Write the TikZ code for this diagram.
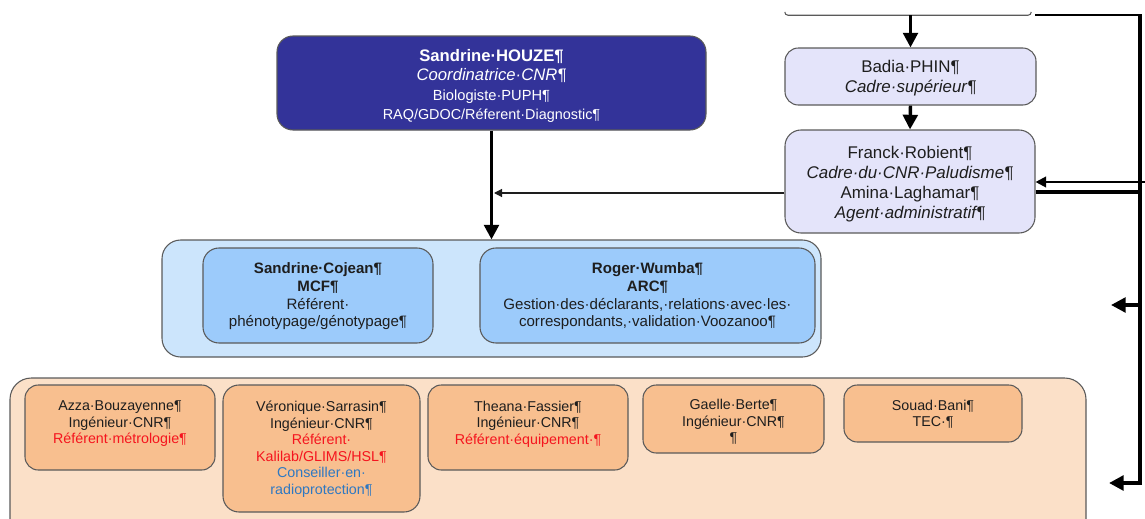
\documentclass[tikz,border=0pt]{standalone}
\usepackage{fontspec}
\setmainfont{Liberation Sans}
\usetikzlibrary{fit,arrows.meta}
\definecolor{boxline}{HTML}{5A5A5A}
\definecolor{houzefill}{HTML}{333399}
\definecolor{lavfill}{HTML}{E4E4FA}
\definecolor{lbluefill}{HTML}{CCE5FC}
\definecolor{mbluefill}{HTML}{9CCBFB}
\definecolor{peachfill}{HTML}{FBE0C8}
\definecolor{orangefill}{HTML}{F8BF8F}
\definecolor{txtdark}{HTML}{1E1E1E}
\definecolor{redref}{HTML}{F5141E}
\definecolor{bluecons}{HTML}{2E78C2}
\begin{document}
\begin{tikzpicture}[x=0.75pt,y=-0.75pt,
  bx/.style={draw=boxline, line width=0.8pt, rounded corners=10pt, inner sep=0pt},
  thickarr/.style={line width=2.6pt, -{Triangle[length=11pt,width=11pt]}},
  thinarr/.style={line width=0.9pt, draw=txtdark, -{Triangle[length=6pt,width=6pt]}},
  txt/.style={align=center, inner sep=0pt, text=txtdark},
  fbig/.style={font=\fontsize{12.7}{15}\selectfont},
  fmid/.style={font=\fontsize{11.3}{13.2}\selectfont},
  fsmall/.style={font=\fontsize{10.7}{12.4}\selectfont}]
\useasboundingbox (0,0) rectangle (1145,518);
\clip (0,0) rectangle (1145,518);

% boxes
\node[inner sep=0pt, fit={(785,6)(1031,15)}] (topbox) {};
\draw[draw=boxline, line width=0.8pt, rounded corners=2.5pt]
  ([yshift=2.5pt]topbox.south west) -- (topbox.south west) -- (topbox.south east) -- ([yshift=2.5pt]topbox.south east);
\node[bx, fill=houzefill, rounded corners=12pt, fit={(277,36)(706,130)}] (houze) {};
\node[bx, fill=lavfill, fit={(785,48)(1036,105)}] (badia) {};
\node[bx, fill=lavfill, rounded corners=12pt, fit={(785,130)(1035,233)}] (franck) {};
\node[bx, fill=lbluefill, rounded corners=14pt, fit={(162,240)(821,357)}] (bluecont) {};
\node[bx, fill=mbluefill, rounded corners=12pt, fit={(203,248)(433,343)}] (cojean) {};
\node[bx, fill=mbluefill, rounded corners=12pt, fit={(480,248)(815,343)}] (wumba) {};
\node[bx, fill=peachfill, rounded corners=16pt, fit={(10,378)(1086,545)}] (orcont) {};
\node[bx, fill=orangefill, fit={(25,385)(215,470)}] (azza) {};
\node[bx, fill=orangefill, rounded corners=12pt, fit={(223,385)(420,512)}] (veronique) {};
\node[bx, fill=orangefill, fit={(428,385)(628,470)}] (theana) {};
\node[bx, fill=orangefill, fit={(643,385)(824,453)}] (gaelle) {};
\node[bx, fill=orangefill, fit={(844,385)(1022,442)}] (souad) {};

% texts
\node[txt, text=white, font=\fontsize{12.5}{14.5}\selectfont] (houzet) at ([yshift=-2.3pt]houze.center)
  {{\bfseries Sandrine·HOUZE¶}\\
   {\itshape Coordinatrice·CNR¶}\\
   {\fontsize{11}{13}\selectfont Biologiste·PUPH¶}\\
   {\fontsize{10.8}{13}\selectfont RAQ/GDOC/Réferent·Diagnostic¶}};
\node[txt, fbig] (badiat) at ([yshift=-1pt]badia.center)
  {Badia·PHIN¶\\ {\itshape Cadre·supérieur¶}};
\node[txt, fbig] (franckt) at ([yshift=-2pt]franck.center)
  {Franck·Robient¶\\ {\itshape Cadre·du·CNR·Paludisme¶}\\ Amina·Laghamar¶\\ {\itshape Agent·administratif¶}};
\node[txt, fmid, anchor=north] (cojeant) at ([yshift=-11.5pt]cojean.north)
  {{\bfseries Sandrine·Cojean¶}\\ {\bfseries MCF¶}\\ Référent·\\ phénotypage/génotypage¶};
\node[txt, fmid, anchor=north] (wumbat) at ([yshift=-11.5pt]wumba.north)
  {{\bfseries Roger·Wumba¶}\\ {\bfseries ARC¶}\\ Gestion·des·déclarants,·relations·avec·les·\\ correspondants,·validation·Voozanoo¶};
\node[txt, fsmall, anchor=north] (azzat) at ([yshift=-12.2pt]azza.north)
  {Azza·Bouzayenne¶\\ Ingénieur·CNR¶\\ {\color{redref}Référent·métrologie¶}};
\node[txt, fsmall, anchor=north] (veroniquet) at ([yshift=-12.2pt]veronique.north)
  {Véronique·Sarrasin¶\\ Ingénieur·CNR¶\\ {\color{redref}Référent·}\\ {\color{redref}Kalilab/GLIMS/HSL¶}\\
   {\color{bluecons}Conseiller·en·}\\ {\color{bluecons}radioprotection¶}};
\node[txt, fsmall, anchor=north] (theanat) at ([yshift=-12.2pt]theana.north)
  {Theana·Fassier¶\\ Ingénieur·CNR¶\\ {\color{redref}Référent·équipement·¶}};
\node[txt, fsmall, anchor=north] (gaellet) at ([yshift=-11pt]gaelle.north)
  {Gaelle·Berte¶\\ Ingénieur·CNR¶\\ ¶};
\node[txt, fsmall, anchor=north] (souadt) at ([yshift=-11.5pt]souad.north)
  {Souad·Bani¶\\ TEC·¶};

% connectors
\draw[thickarr] (badia.north |- topbox.south) -- (badia.north);
\draw[thickarr] (badia.south) -- (franck.north);
\draw[thickarr] (houze.south) -- (houze.south |- bluecont.north);

\coordinate (hline) at (494,193);
\draw[thinarr] (franck.west |- hline) -- (hline);

\coordinate (tstart) at (1035,15);
\coordinate (tcorner) at (1140,15);
\coordinate (tbottom) at (1140,483);
\coordinate (bottip) at (1109,483);
\coordinate (midroot) at (1140,305);
\coordinate (midtip) at (1111,305);
\draw[line width=1.6pt] (tstart) -- ([xshift=1.5pt]tcorner);
\draw[thickarr, line width=3pt, line join=miter] (tcorner) -- (tbottom) -- (bottip);
\draw[thickarr] (midroot) -- (midtip);

\coordinate (fin) at (1147,182);
\coordinate (fout) at (1140,192);
\draw[line width=1.6pt, -{Triangle[length=8pt,width=8pt]}] (fin) -- (franck.east |- fin);
\draw[line width=3pt] (franck.east |- fout) -- (fout);
\end{tikzpicture}
\end{document}
